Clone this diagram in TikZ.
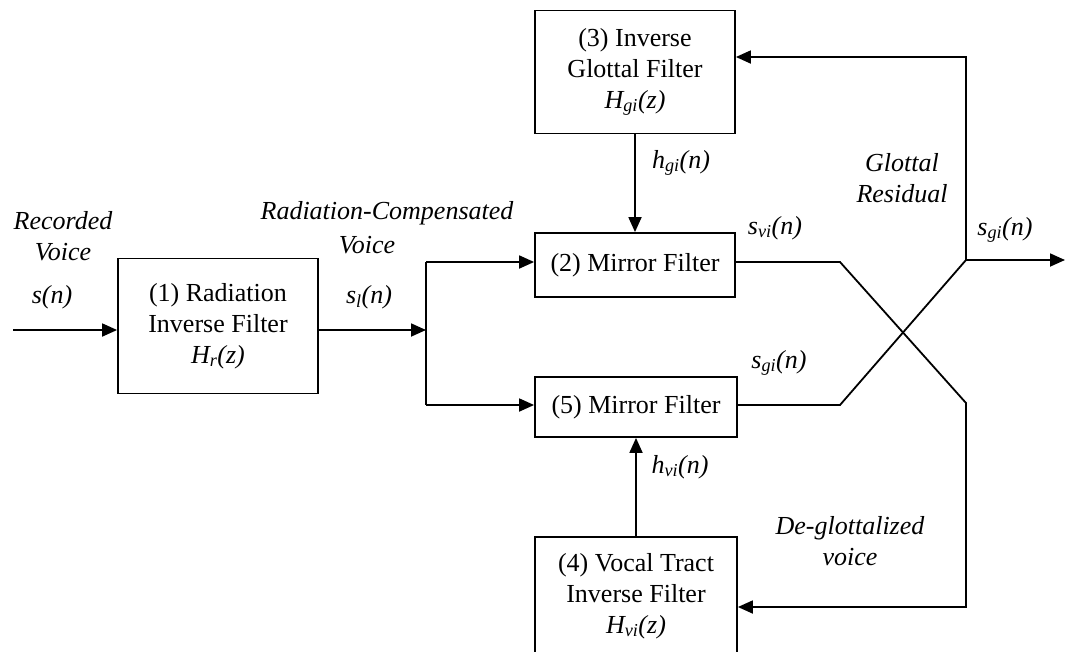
\documentclass[tikz,border=0pt]{standalone}
\usepackage{fontspec}
\setmainfont{Liberation Serif}
\usetikzlibrary{arrows.meta,calc}

% italic signal name with subscript, e.g. H_{gi}(z)
\newcommand\sgn[3]{\textit{#1\textsubscript{#2}(#3)}}

\begin{document}
\begin{tikzpicture}[x=1pt,y=-1pt,
  line width=1.8pt,
  every node/.style={font=\fontsize{26}{31}\selectfont, inner sep=0pt},
  block/.style={draw, line width=1.8pt, align=center, minimum width=200pt},
  arr/.style={-{Triangle[length=15pt,width=13pt]}},
  lbl/.style={font=\fontsize{26}{31}\selectfont\itshape, align=center}]

\useasboundingbox (0,0) rectangle (1066,651);

% blocks
\node[block, minimum height=135pt] (rad) at (218,326)
  {(1) Radiation\\Inverse Filter\\\sgn{H}{r}{z}};
\node[block, minimum height=123pt] (glot) at (635,72)
  {(3) Inverse\\Glottal Filter\\\sgn{H}{gi}{z}};
\node[block, minimum height=64pt] (mirA) at (635,265) {(2) Mirror Filter};
\node[block, minimum height=60pt, minimum width=202pt] (mirB) at (636,407) {(5) Mirror Filter};
\node[block, minimum height=118pt, minimum width=202pt] (vt) at (636,596)
  {(4) Vocal Tract\\Inverse Filter\\\sgn{H}{vi}{z}};

% junction and routing points
\coordinate (src) at (13,330);
\coordinate (j)   at (426,330);
\coordinate (jt)  at (426,262);
\coordinate (jb)  at (426,405);
\coordinate (a1)  at (840,262);
\coordinate (a2)  at (966,403);
\coordinate (a3)  at (966,607);
\coordinate (b1)  at (840,405);
\coordinate (b2)  at (966,260);
\coordinate (b3)  at (966,57);
\coordinate (out) at (1065,260);

% input chain
\draw[arr] (src) -- (src -| rad.west);
\draw[arr] (rad.east |- j) -- (j);
\draw (jt) -- (jb);
\draw[arr] (jt) -- (jt -| mirA.west);
\draw[arr] (jb) -- (jb -| mirB.west);

% filter coefficients
\draw[arr] (glot.south) -- (mirA.north);
\draw[arr] (vt.north) -- (mirB.south);

% crossing outputs
\draw[arr] (mirA.east |- a1) -- (a1) -- (a2) -- (a3) -- (a3 -| vt.east);
\draw[arr] (mirB.east |- b1) -- (b1) -- (b2) -- (b3) -- (b3 -| glot.east);
\draw[arr] (b2) -- (out);

% labels
\node[lbl] (lrec) at (63,236) {Recorded\\Voice};
\node[lbl] (ls) at (52,297) {s(n)};
\node[lbl] (lrc) at (387,213) {Radiation-Compensated};
\node[lbl] (lrcv) at (367,245) {Voice};
\node (lsl) at (369,297) {\sgn{s}{l}{n}};
\node (lhg) at (681,163) {\sgn{h}{gi}{n}};
\node (lsv) at (775,228) {\sgn{s}{vi}{n}};
\node[lbl] (lgr) at (902,178) {Glottal\\Residual};
\node (lsg1) at (1005,230) {\sgn{s}{gi}{n}};
\node (lsg2) at (779,363) {\sgn{s}{gi}{n}};
\node (lhv) at (680,467) {\sgn{h}{vi}{n}};
\node[lbl] (ldg) at (850,541) {De-glottalized\\voice};
\end{tikzpicture}
\end{document}
